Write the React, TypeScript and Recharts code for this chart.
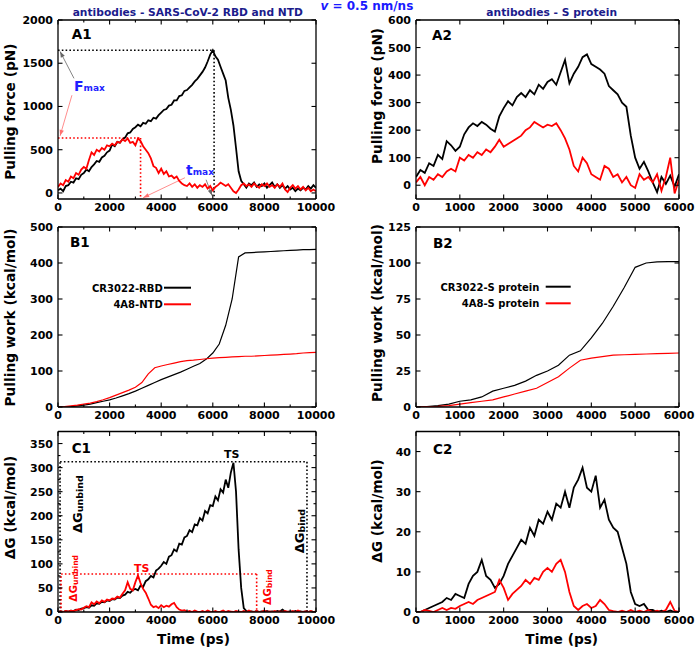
import React, { FC, ReactNode } from 'react';
import { LineChart, Line, XAxis, YAxis, ReferenceLine } from 'recharts';

const FONT = '"DejaVu Sans", sans-serif';
const STEP = 100; // ps between force / dG samples
const WORK_STEP = 250; // ps between work samples

// A1 - pulling force (pN), CR3022-RBD (black) and 4A8-NTD (red)
const forceRbd = [
  30, 50, 20, 80, 90, 130, 120, 170, 160, 210,
  230, 270, 250, 300, 330, 370, 360, 410, 430, 470,
  490, 560, 540, 590, 580, 620, 640, 690, 700, 740,
  760, 790, 770, 810, 800, 840, 830, 870, 860, 900,
  930, 960, 970, 1010, 1020, 1070, 1070, 1120, 1130, 1180,
  1190, 1220, 1250, 1290, 1320, 1360, 1400, 1450, 1520, 1600,
  1650, 1580, 1540, 1460, 1380, 1300, 1100, 960, 780, 520,
  250, 140, 100, 60, 110, 90, 120, 70, 100, 80,
  110, 60, 90, 120, 70, 100, 60, 90, 50, 80,
  40, 60, 20, 50, 30, 60, 40, 80, 50, 90, 60,
];
const forceNtd = [
  70, 110, 90, 150, 130, 190, 170, 230, 210, 270,
  300, 280, 380, 470, 440, 500, 480, 520, 500, 550,
  540, 570, 550, 590, 580, 620, 600, 630, 580, 590,
  550, 630, 600, 540, 500, 460, 400, 310, 290, 230,
  280, 220, 250, 190, 200, 170, 190, 140, 110, 90,
  80, 110, 70, 100, 60, 90, 70, 100, 50, 80,
  30, 70, 90, 120, 100, 80, 100, 60, 20, 0,
  40, 90, 110, 80, 100, 70, 110, 80, 60, 100,
  80, 110, 70, 90, 60, 100, 70, 110, 40, 10,
  60, 90, 50, 80, 40, 70, 30, 60, 20, 40, 20,
];

// A2 - pulling force (pN), CR3022-S protein (black) and 4A8-S protein (red)
const forceCr3022S = [
  30, 55, 45, 80, 70, 110, 95, 160, 145, 125,
  140, 185, 210, 225, 215, 230, 220, 205, 195, 250,
  280, 305, 290, 320, 335, 320, 345, 330, 365, 350,
  375, 385, 365, 410, 455, 370, 405, 430, 465, 475,
  440, 430, 420, 405, 360, 345, 330, 300, 285, 180,
  100, 60, 85, 50, 10, -25, 30, 5, 35, -5, 40,
];
const force4a8S = [
  10, 30, 0, 30, 20, 40, 30, 50, 60, 50,
  100, 90, 110, 100, 120, 110, 130, 120, 140, 165,
  140, 150, 160, 170, 180, 200, 210, 230, 220, 210,
  220, 215, 225, 200, 170, 130, 70, 50, 100, 80,
  40, 30, 20, 70, 60, 30, 40, 10, 30, 0,
  -10, 40, 20, 30, 10, 40, -20, 30, 100, -30, 20,
];

// B1 - pulling work (kcal/mol)
const workRbd = [
  0, 0, 1, 3, 5, 8, 12, 16, 20, 25,
  31, 37, 44, 52, 60, 68, 76, 83, 90, 97,
  105, 113, 121, 133, 150, 175, 227, 300, 417, 428,
  429, 430, 431, 432, 433, 434, 435, 436, 437, 437, 438,
];
const workNtd = [
  0, 1, 3, 5, 8, 11, 15, 20, 26, 33,
  40, 47, 55, 68, 92, 109, 114, 118, 122, 126,
  129, 130, 132, 134, 136, 137, 138, 139, 140, 141,
  141, 142, 143, 144, 145, 146, 147, 148, 150, 151, 152,
];

// B2 - pulling work (kcal/mol)
const workCr3022S = [0, 0.3, 1, 2, 4, 5, 7, 11, 13, 15, 18, 22, 25, 29, 36, 39, 48, 58, 70, 83, 97, 100, 100.8, 101, 101];
const work4a8S = [0, 0.2, 0.5, 1, 2, 3, 4, 5, 7, 9, 11, 13, 17, 21, 27, 32.5, 34, 35, 36, 36.3, 36.5, 36.8, 37, 37.3, 37.5];

// C1 - dG (kcal/mol)
const dgRbd = [
  0, 1, 0, 2, 1, 3, 2, 5, 4, 7,
  8, 10, 9, 14, 13, 18, 17, 21, 20, 24,
  23, 27, 26, 30, 29, 34, 36, 42, 40, 46,
  48, 45, 55, 52, 64, 68, 75, 72, 86, 90,
  96, 104, 100, 115, 118, 130, 126, 142, 140, 155,
  158, 170, 166, 182, 180, 195, 190, 210, 205, 222,
  220, 240, 232, 255, 248, 275, 258, 290, 310, 250,
  130, 50, 8, 2, 0, 1, 0, 2, 0, 1,
  0, 2, 0, 1, 0, 2, 1, 5, 1, 0,
  1, 0, 2, 0, 1, 0, 1, 0, 1, 0, 0,
];
const dgNtd = [
  0, 1, 0, 2, 1, 3, 2, 4, 6, 5,
  9, 12, 10, 20, 16, 22, 18, 24, 21, 26,
  24, 28, 27, 32, 30, 38, 45, 62, 48, 45,
  62, 76, 60, 48, 40, 28, 15, 10, 12, 8,
  14, 10, 13, 11, 16, 19, 10, 5, 3, 4,
  1, 2, 0, 3, 1, 0, 2, 0, 3, 1,
  0, 2, 0, 1, 3, 0, 2, 1, 0, 2,
  1, 0, 2, 0, 3, 1, 0, 2, 0, 1,
  3, 0, 1, 0, 2, 0, 1, 0, 2, 1,
  0, 2, 0, 3, 1, 0, 1, 0, 2, 0, 1,
];

// C2 - dG (kcal/mol)
const dgCr3022S = [
  0, 0, 0.5, 1, 1.5, 2, 2.5, 3.5, 3, 4.5,
  4, 3.5, 7, 9, 10, 13, 9, 8, 6, 7,
  9, 12, 14, 16, 18, 17, 21, 19, 23, 22,
  25, 23, 27, 26, 30, 26, 31, 33, 36, 31,
  30, 34, 26, 28, 23, 21, 20, 16, 12, 5,
  2, 1.5, 2, 0.5, 0.5, 0, 0.3, 0, 0.4, 0, 0,
];
const dg4a8S = [
  0, 0, 0.5, 0.3, 0, 0.5, 1, 0.5, 1, 0.8,
  1.5, 2, 2.5, 2, 3, 3.5, 4, 4.5, 5, 8,
  6, 3, 4.5, 5.5, 6.5, 8, 7, 8.5, 8, 10,
  11, 10, 12, 13, 10, 5, 1.5, 0.5, 1.5, 2,
  1, 1.5, 3, 2, 0.5, 0.2, 0, 0.3, 0, 0.5,
  0, 0.3, 0, 0.5, 0, 0.3, 0, 0.5, 2.5, 0.3, 0,
];

// ticks
const ticksTimeLong = [0, 1000, 2000, 3000, 4000, 5000, 6000, 7000, 8000, 9000, 10000];
const ticksTimeShort = [0, 1000, 2000, 3000, 4000, 5000, 6000];
const ticksForceA1 = [0, 500, 1000, 1500, 2000];
const ticksForceA2 = [0, 100, 200, 300, 400, 500, 600];
const ticksWorkB1 = [0, 100, 200, 300, 400, 500];
const ticksWorkB2 = [0, 25, 50, 75, 100, 125];
const ticksDgC1 = [0, 25, 50, 75, 100, 125, 150, 175, 200, 225, 250, 275, 300, 325, 350];
const ticksDgC2 = [0, 10, 20, 30, 40];

// annotation anchors (data units)
const fMaxRbd = 1650;
const tMaxRbd = 6050;
const fMaxNtd = 636;
const tMaxNtd = 3200;
const dgTsRbd = 312;
const dgTsNtd = 79;
const tBindRbd = 9650;
const tBindNtd = 7700;

type Row = { t: number; v: number };
const rows = (step: number, vals: number[]): Row[] => vals.map((v, i) => ({ t: i * step, v }));

const AXIS = { stroke: '#000', strokeWidth: 1.3 };
const TICK_TEXT = { fontFamily: FONT, fontWeight: 700, fontSize: 11, fill: '#000' };

const leftTick = (every: number) => (p: any) => {
  const v = p.payload.value;
  const major = v % every === 0;
  return (
    <g>
      <line x1={p.x} x2={p.x + (major ? 4.5 : 2.5)} y1={p.y} y2={p.y} stroke="#000" strokeWidth={1.1} />
      {major && (
        <text x={p.x - 5} y={p.y + 4} textAnchor="end" {...TICK_TEXT}>
          {v}
        </text>
      )}
    </g>
  );
};
const rightTick = (every: number) => (p: any) => {
  const major = p.payload.value % every === 0;
  return <line x1={p.x} x2={p.x - (major ? 4.5 : 2.5)} y1={p.y} y2={p.y} stroke="#000" strokeWidth={1.1} />;
};
const bottomTick = (every: number) => (p: any) => {
  const v = p.payload.value;
  const major = v % every === 0;
  return (
    <g>
      <line x1={p.x} x2={p.x} y1={p.y} y2={p.y - (major ? 4.5 : 2.5)} stroke="#000" strokeWidth={1.1} />
      {major && (
        <text x={p.x} y={p.y + 12} textAnchor="middle" {...TICK_TEXT}>
          {v}
        </text>
      )}
    </g>
  );
};
const topTick = (every: number) => (p: any) => {
  const major = p.payload.value % every === 0;
  return <line x1={p.x} x2={p.x} y1={p.y} y2={p.y + (major ? 4.5 : 2.5)} stroke="#000" strokeWidth={1.1} />;
};

const arrowLine = (color: string) => (p: any) => {
  const { x1, y1, x2, y2 } = p;
  const a = Math.atan2(y2 - y1, x2 - x1);
  const bx = x2 - 6 * Math.cos(a);
  const by = y2 - 6 * Math.sin(a);
  const w = 2.2;
  const pts = `${x2},${y2} ${bx - w * Math.sin(a)},${by + w * Math.cos(a)} ${bx + w * Math.sin(a)},${by - w * Math.cos(a)}`;
  return (
    <g>
      <line x1={x1} y1={y1} x2={x2} y2={y2} stroke={color} strokeWidth={0.8} />
      <polygon points={pts} fill={color} />
    </g>
  );
};

// plot area edges, page pixels; axes take 1px each, so margins are one less
interface Col { left: number; width: number; ml: number; mr: number }
interface RowBox { top: number; height: number; mt: number; mb: number }

const LEFT_COL: Col = { left: 0, width: 340, ml: 57, mr: 23 };
const RIGHT_COL: Col = { left: 350, width: 350, ml: 65, mr: 20 };
const ROW_A: RowBox = { top: 0, height: 218, mt: 19, mb: 18 };
const ROW_B: RowBox = { top: 212, height: 218, mt: 14, mb: 22 };
const ROW_C: RowBox = { top: 420, height: 228, mt: 10.5, mb: 35 };

interface PanelProps {
  col: Col;
  row: RowBox;
  xMax: number;
  xTicks: number[];
  xEvery: number;
  yDomain: [number, number];
  yTicks: number[];
  yEvery: number;
  black: Row[];
  red: Row[];
  width?: number;
  children?: ReactNode;
}

const Panel: FC<PanelProps> = ({ col, row, xMax, xTicks, xEvery, yDomain, yTicks, yEvery, black, red, width = 1.8, children }) => (
  <div style={{ position: 'absolute', left: col.left, top: row.top, width: col.width, height: row.height }}>
    <LineChart width={col.width} height={row.height} margin={{ top: row.mt, right: col.mr, bottom: row.mb, left: col.ml }}>
      <XAxis xAxisId="b" dataKey="t" type="number" domain={[0, xMax]} ticks={xTicks} interval={0} height={1}
        tickSize={0} tickMargin={0} tickLine={false} axisLine={AXIS} tick={bottomTick(xEvery)} allowDataOverflow />
      <XAxis xAxisId="t" orientation="top" dataKey="t" type="number" domain={[0, xMax]} ticks={xTicks} interval={0} height={1}
        tickSize={0} tickMargin={0} tickLine={false} axisLine={AXIS} tick={topTick(xEvery)} allowDataOverflow />
      <YAxis yAxisId="l" type="number" domain={yDomain} ticks={yTicks} interval={0} width={1}
        tickSize={0} tickMargin={0} tickLine={false} axisLine={AXIS} tick={leftTick(yEvery)} allowDataOverflow />
      <YAxis yAxisId="r" orientation="right" type="number" domain={yDomain} ticks={yTicks} interval={0} width={1}
        tickSize={0} tickMargin={0} tickLine={false} axisLine={AXIS} tick={rightTick(yEvery)} allowDataOverflow />
      {children}
      <Line xAxisId="b" yAxisId="l" data={black} dataKey="v" type="linear" stroke="#000" strokeWidth={width} dot={false} isAnimationActive={false} />
      <Line xAxisId="t" yAxisId="r" data={red} dataKey="v" type="linear" stroke="#ff0000" strokeWidth={width} dot={false} isAnimationActive={false} />
    </LineChart>
  </div>
);

const DOT = '1.6 2.2';

const App: FC = () => {
  const bRef = { xAxisId: 'b', yAxisId: 'l', ifOverflow: 'visible' as const };
  return (
    <div style={{ position: 'absolute', left: 0, top: 0, width: 700, height: 648, background: '#fff', fontFamily: FONT }}>
      <Panel col={LEFT_COL} row={ROW_A} xMax={10000} xTicks={ticksTimeLong} xEvery={2000} yDomain={[-70, 2000]}
        yTicks={ticksForceA1} yEvery={500} black={rows(STEP, forceRbd)} red={rows(STEP, forceNtd)}>
        <ReferenceLine {...bRef} segment={[{ x: 0, y: fMaxRbd }, { x: tMaxRbd, y: fMaxRbd }]} stroke="#000" strokeWidth={1.6} strokeDasharray={DOT} />
        <ReferenceLine {...bRef} segment={[{ x: tMaxRbd, y: fMaxRbd }, { x: tMaxRbd, y: -70 }]} stroke="#000" strokeWidth={1.6} strokeDasharray={DOT} />
        <ReferenceLine {...bRef} segment={[{ x: 0, y: fMaxNtd }, { x: tMaxNtd, y: fMaxNtd }]} stroke="#ff0000" strokeWidth={1.6} strokeDasharray={DOT} />
        <ReferenceLine {...bRef} segment={[{ x: tMaxNtd, y: fMaxNtd }, { x: tMaxNtd, y: -70 }]} stroke="#ff0000" strokeWidth={1.6} strokeDasharray={DOT} />
        <ReferenceLine {...bRef} segment={[{ x: 620, y: 1325 }, { x: 80, y: 1636 }]} shape={arrowLine('#666')} />
        <ReferenceLine {...bRef} segment={[{ x: 540, y: 1130 }, { x: 80, y: 660 }]} shape={arrowLine('#ff7070')} />
        <ReferenceLine {...bRef} segment={[{ x: 4920, y: 176 }, { x: 3300, y: -55 }]} shape={arrowLine('#ff7070')} />
        <ReferenceLine {...bRef} segment={[{ x: 5740, y: 153 }, { x: 5970, y: -30 }]} shape={arrowLine('#666')} />
      </Panel>
      <Panel col={RIGHT_COL} row={ROW_A} xMax={6000} xTicks={ticksTimeShort} xEvery={1000} yDomain={[-50, 600]}
        yTicks={ticksForceA2} yEvery={100} black={rows(STEP, forceCr3022S)} red={rows(STEP, force4a8S)} />
      <Panel col={LEFT_COL} row={ROW_B} xMax={10000} xTicks={ticksTimeLong} xEvery={2000} yDomain={[0, 500]}
        yTicks={ticksWorkB1} yEvery={100} black={rows(WORK_STEP, workRbd)} red={rows(WORK_STEP, workNtd)} width={1.2} />
      <Panel col={RIGHT_COL} row={ROW_B} xMax={6000} xTicks={ticksTimeShort} xEvery={1000} yDomain={[0, 125]}
        yTicks={ticksWorkB2} yEvery={25} black={rows(WORK_STEP, workCr3022S)} red={rows(WORK_STEP, work4a8S)} width={1.2} />
      <Panel col={LEFT_COL} row={ROW_C} xMax={10000} xTicks={ticksTimeLong} xEvery={2000} yDomain={[0, 375]}
        yTicks={ticksDgC1} yEvery={50} black={rows(STEP, dgRbd)} red={rows(STEP, dgNtd)}>
        <ReferenceLine {...bRef} segment={[{ x: 80, y: 0 }, { x: 80, y: dgTsRbd }]} stroke="#000" strokeWidth={1.6} strokeDasharray={DOT} />
        <ReferenceLine {...bRef} segment={[{ x: 80, y: dgTsRbd }, { x: tBindRbd, y: dgTsRbd }]} stroke="#000" strokeWidth={1.6} strokeDasharray={DOT} />
        <ReferenceLine {...bRef} segment={[{ x: tBindRbd, y: dgTsRbd }, { x: tBindRbd, y: 0 }]} stroke="#000" strokeWidth={1.6} strokeDasharray={DOT} />
        <ReferenceLine {...bRef} segment={[{ x: 120, y: 0 }, { x: 120, y: dgTsNtd }]} stroke="#ff0000" strokeWidth={1.6} strokeDasharray={DOT} />
        <ReferenceLine {...bRef} segment={[{ x: 120, y: dgTsNtd }, { x: tBindNtd, y: dgTsNtd }]} stroke="#ff0000" strokeWidth={1.6} strokeDasharray={DOT} />
        <ReferenceLine {...bRef} segment={[{ x: tBindNtd, y: dgTsNtd }, { x: tBindNtd, y: 0 }]} stroke="#ff0000" strokeWidth={1.6} strokeDasharray={DOT} />
      </Panel>
      <Panel col={RIGHT_COL} row={ROW_C} xMax={6000} xTicks={ticksTimeShort} xEvery={1000} yDomain={[0, 45]}
        yTicks={ticksDgC2} yEvery={10} black={rows(STEP, dgCr3022S)} red={rows(STEP, dg4a8S)} />

      <svg width={700} height={648} style={{ position: 'absolute', left: 0, top: 0, pointerEvents: 'none' }} fontFamily={FONT} fontWeight={700}>
        <text x={187.8} y={16.3} fontSize={10.7} fill="#1c1c8c" textAnchor="middle">antibodies - SARS-CoV-2 RBD and NTD</text>
        <text x={366.9} y={9.5} fontSize={12} fill="#1a1aff" textAnchor="middle">
          <tspan fontStyle="italic">v</tspan> = 0.5 nm/ns
        </text>
        <text x={551.7} y={15.6} fontSize={10.7} fill="#1c1c8c" textAnchor="middle">antibodies - S protein</text>

        <text x={71.7} y={38.5} fontSize={13.5}>A1</text>
        <text x={432} y={40} fontSize={13.5}>A2</text>
        <text x={70} y={246.7} fontSize={13.5}>B1</text>
        <text x={433} y={248} fontSize={13.5}>B2</text>
        <text x={71.7} y={452.7} fontSize={13.5}>C1</text>
        <text x={433} y={454} fontSize={13.5}>C2</text>

        <text transform="translate(15,111.7) rotate(-90)" fontSize={13.7} textAnchor="middle">Pulling force (pN)</text>
        <text transform="translate(382,96) rotate(-90)" fontSize={13.7} textAnchor="middle">Pulling force (pN)</text>
        <text transform="translate(15,317.5) rotate(-90)" fontSize={13.7} textAnchor="middle">Pulling work (kcal/mol)</text>
        <text transform="translate(382,313) rotate(-90)" fontSize={13.7} textAnchor="middle">Pulling work (kcal/mol)</text>
        <text transform="translate(15,507.5) rotate(-90)" fontSize={13.7} textAnchor="middle">ΔG (kcal/mol)</text>
        <text transform="translate(382,511) rotate(-90)" fontSize={13.7} textAnchor="middle">ΔG (kcal/mol)</text>
        <text x={193.5} y={644} fontSize={13.7} textAnchor="middle">Time (ps)</text>
        <text x={561.7} y={644} fontSize={13.7} textAnchor="middle">Time (ps)</text>

        <text x={162.7} y={291.5} fontSize={10} textAnchor="end">CR3022-RBD</text>
        <line x1={164} x2={191} y1={287.7} y2={287.7} stroke="#000" strokeWidth={2} />
        <text x={162.7} y={308} fontSize={10} textAnchor="end">4A8-NTD</text>
        <line x1={164} x2={191} y1={304.3} y2={304.3} stroke="#ff0000" strokeWidth={2} />
        <text x={539.3} y={290.5} fontSize={10} textAnchor="end">CR3022-S protein</text>
        <line x1={545.7} x2={570.7} y1={286.7} y2={286.7} stroke="#000" strokeWidth={2} />
        <text x={539.3} y={307} fontSize={10} textAnchor="end">4A8-S protein</text>
        <line x1={545.7} x2={570.7} y1={303.3} y2={303.3} stroke="#ff0000" strokeWidth={2} />

        <text x={74} y={90.7} fontSize={14} fill="#1f1fff">F<tspan fontSize={9}>max</tspan></text>
        <text x={186} y={175} fontSize={14} fill="#1f1fff">t<tspan fontSize={9}>max</tspan></text>

        <text x={231.7} y={458} fontSize={11} textAnchor="middle">TS</text>
        <text x={141.7} y={571.5} fontSize={11} textAnchor="middle" fill="#ff0000">TS</text>
        <text transform="translate(81.7,533) rotate(-90)" fontSize={13}>ΔG<tspan fontSize={9.5} dy={1}>unbind</tspan></text>
        <text transform="translate(304,553.3) rotate(-90)" fontSize={13}>ΔG<tspan fontSize={9.5} dy={1}>bind</tspan></text>
        <text transform="translate(76.5,601.7) rotate(-90)" fontSize={10.5} fill="#ff0000">ΔG<tspan fontSize={7.7} dy={1}>unbind</tspan></text>
        <text transform="translate(270.5,605) rotate(-90)" fontSize={10.5} fill="#ff0000">ΔG<tspan fontSize={7.7} dy={1}>bind</tspan></text>
      </svg>
    </div>
  );
};

export default App;
